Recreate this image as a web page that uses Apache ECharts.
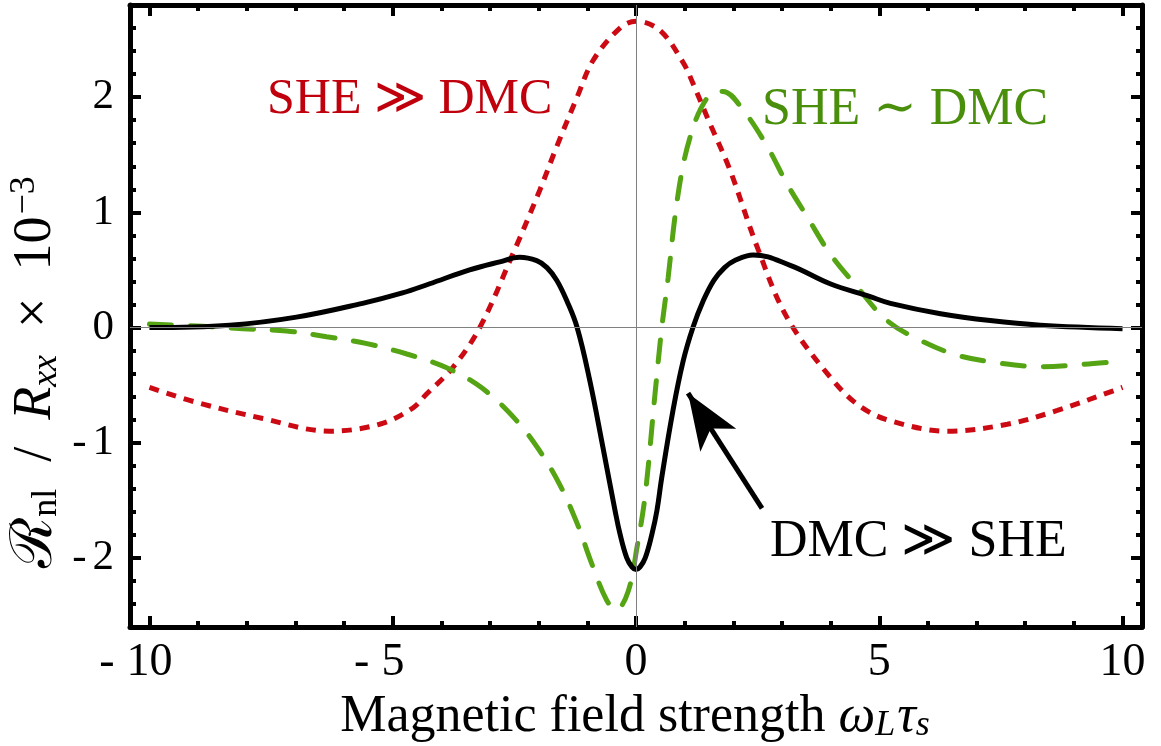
<!DOCTYPE html>
<html>
<head>
<meta charset="utf-8">
<script src="https://cdn.jsdelivr.net/npm/echarts@6/dist/echarts.min.js"></script>
<style>
  html, body { margin: 0; padding: 0; background: #fff; }
  #chart { width: 1161px; height: 746px; }
</style>
</head>
<body>
<div id="chart"></div>
<script>
// tick positions
var xMajor = [-10, -5, 0, 5, 10];
var xMinor = [-10, -9, -8, -7, -6, -5, -4, -3, -2, -1, 0, 1, 2, 3, 4, 5, 6, 7, 8, 9, 10];
var yMajor = [-2, -1, 0, 1, 2];
var yMinor = [-2.6, -2.4, -2.2, -2, -1.8, -1.6, -1.4, -1.2, -1, -0.8, -0.6, -0.4, -0.2, 0,
  0.2, 0.4, 0.6, 0.8, 1, 1.2, 1.4, 1.6, 1.8, 2, 2.2, 2.4, 2.6, 2.8];

// DMC >> SHE (black, solid)
var blackX = [-10, -8.35, -6.98, -5.62, -4.8, -4.24, -3.42, -2.8, -2.39, -2.04, -1.83, -1.63, -1.42, -1.21, -0.95, -0.68, -0.43, -0.33, -0.19, -0.08, 0,
  0.08, 0.19, 0.33, 0.43, 0.53, 0.76, 0.97, 1.17, 1.38, 1.6, 1.82, 2.02, 2.41, 3.17, 3.99, 4.8, 5.23, 6.26, 7.28, 8.31, 10];
var blackY = [0, 0.02, 0.09, 0.21, 0.3, 0.38, 0.5, 0.57, 0.61, 0.58, 0.52, 0.41, 0.23, 0, -0.46, -1.04, -1.59, -1.79, -2.0, -2.08, -2.1,
  -2.08, -2.0, -1.79, -1.59, -1.3, -0.72, -0.29, 0, 0.23, 0.41, 0.52, 0.58, 0.63, 0.54, 0.38, 0.27, 0.21, 0.12, 0.06, 0.02, -0.01];

// SHE >> DMC (red, dotted)
var redX = [-10, -9.03, -7.67, -6.3, -5.27, -4.59, -4.31, -3.77, -3.21, -2.53, -1.98, -1.63, -1.21, -0.88, -0.33, 0,
  0.49, 0.97, 1.17, 1.52, 1.93, 2.49, 3.1, 3.99, 4.59, 5.23, 6.4, 7.63, 8.66, 9.81, 10];
var redY = [-0.52, -0.65, -0.79, -0.9, -0.84, -0.7, -0.58, -0.35, 0, 0.64, 1.19, 1.57, 2.0, 2.32, 2.6, 2.66,
  2.58, 2.3, 2.12, 1.77, 1.37, 0.7, 0.09, -0.43, -0.68, -0.81, -0.9, -0.84, -0.72, -0.55, -0.52];

// SHE ~ DMC (green, dashed)
var greenX = [-10, -8.9, -8.08, -7.18, -6.36, -5.53, -4.71, -3.89, -3.15, -2.45, -1.98, -1.56, -1.21, -0.91, -0.6, -0.4, -0.16, 0.02,
  0.19, 0.39, 0.53, 0.66, 0.8, 0.95, 1.11, 1.32, 1.59, 1.79, 2.2, 2.7, 3.1, 3.52, 3.99, 4.55, 5.16, 5.84, 6.6, 7.49, 8.31, 9.2, 10];
var greenY = [0.03, 0.01, -0.01, -0.03, -0.08, -0.14, -0.23, -0.35, -0.53, -0.81, -1.07, -1.37, -1.7, -2.05, -2.37, -2.45, -2.29, -1.91,
  -1.45, -0.58, 0, 0.43, 0.96, 1.37, 1.65, 1.89, 2.04, 2.05, 1.89, 1.57, 1.25, 0.96, 0.64, 0.35, 0.06, -0.11, -0.24, -0.31, -0.34, -0.32, -0.29];

function pairs(xs, ys) {
  var res = [];
  for (var i = 0; i < xs.length; i++) res.push([xs[i], ys[i]]);
  return res;
}

var serif = "'Liberation Serif', 'DejaVu Serif', serif";

function xAxisOf(position, ticks, len, labels, line) {
  return {
    type: 'value', position: position, min: -10.4, max: 10.4,
    axisLine: { show: line, onZero: false, lineStyle: { color: '#000', width: 5 } },
    axisTick: { show: true, inside: true, length: len, customValues: ticks, lineStyle: { color: '#000', width: 4 } },
    axisLabel: {
      show: labels, customValues: xMajor, margin: 13, color: '#000', fontFamily: serif, fontSize: 46,
      // minus sign hangs to the left, digits stay centred on the tick
      formatter: function (v) { return v < 0 ? '{m|-}' + Math.abs(v) + '{p|}' : '' + v; },
      rich: {
        m: { fontFamily: serif, fontSize: 46, color: '#000', padding: [0, 12, 0, 0] },
        p: { width: 27 }
      }
    },
    splitLine: { show: false }
  };
}

function yAxisOf(position, ticks, len, labels, line) {
  return {
    type: 'value', position: position, min: -2.6, max: 2.8,
    axisLine: { show: line, onZero: false, lineStyle: { color: '#000', width: 5 } },
    axisTick: { show: true, inside: true, length: len, customValues: ticks, lineStyle: { color: '#000', width: 4 } },
    axisLabel: {
      show: labels, customValues: yMajor, margin: 16, color: '#000', fontFamily: serif, fontSize: 43,
      formatter: function (v) { return v < 0 ? '{m|-}' + Math.abs(v) : '' + v; },
      rich: {
        m: { fontFamily: serif, fontSize: 43, color: '#000', padding: [0, 6, 0, 0] }
      }
    },
    splitLine: { show: false }
  };
}

var xAxes = [
  xAxisOf('bottom', xMajor, 11, true, true),
  xAxisOf('bottom', xMinor, 6, false, false),
  xAxisOf('top', xMajor, 11, false, true),
  xAxisOf('top', xMinor, 6, false, false)
];
xAxes[0].name = 'Magnetic field strength {it|ω}{sub|L}{it|τ}{sub|s}';
xAxes[0].nameLocation = 'middle';
xAxes[0].nameGap = 56;
xAxes[0].nameTextStyle = {
  color: '#000', fontFamily: serif, fontSize: 52,
  rich: {
    it: { fontFamily: serif, fontStyle: 'italic', fontSize: 52, color: '#000' },
    sub: { fontFamily: serif, fontStyle: 'italic', fontSize: 36, color: '#000', verticalAlign: 'bottom', padding: [18, 2, 0, 0] }
  }
};

var option = {
  animation: false,
  backgroundColor: '#fff',
  grid: { left: 130, right: 19, top: 5, bottom: 119, containLabel: false, outerBoundsMode: 'none' },
  xAxis: xAxes,
  yAxis: [
    yAxisOf('left', yMajor, 11, true, true),
    yAxisOf('left', yMinor, 6, false, false),
    yAxisOf('right', yMajor, 11, false, true),
    yAxisOf('right', yMinor, 6, false, false)
  ],
  series: [
    {
      name: 'SHE >> DMC', type: 'line', data: pairs(redX, redY), showSymbol: false, smooth: 0.35,
      lineStyle: { color: '#cc0a14', width: 5, type: [10, 8], cap: 'butt' },
      markLine: {
        silent: true, symbol: 'none', label: { show: false },
        lineStyle: { color: '#808080', width: 1, type: 'solid' },
        data: [{ xAxis: 0 }, { yAxis: 0 }]
      },
      z: 2
    },
    {
      name: 'SHE ~ DMC', type: 'line', data: pairs(greenX, greenY), showSymbol: false, smooth: 0.35,
      lineStyle: { color: '#55a414', width: 5, type: [22, 19], cap: 'round' },
      z: 3
    },
    {
      name: 'DMC >> SHE', type: 'line', data: pairs(blackX, blackY), showSymbol: false, smooth: 0.4,
      lineStyle: { color: '#000', width: 5 },
      markLine: {
        silent: true, symbol: ['none', 'arrow'], symbolSize: [32, 56], label: { show: false },
        lineStyle: { color: '#000', width: 5, type: 'solid' },
        data: [[{ coord: [2.59, -1.57] }, { coord: [1.07, -0.57] }]]
      },
      z: 4
    }
  ],
  graphic: [
    {
      type: 'text', left: 267, top: 75,
      style: { text: 'SHE ≫ DMC', fill: '#c0000c', font: '50px ' + serif }
    },
    {
      type: 'text', left: 762, top: 84,
      style: { text: 'SHE ∼ DMC', fill: '#4a8f0c', font: '52px ' + serif }
    },
    {
      type: 'text', left: 770, top: 516,
      style: { text: 'DMC ≫ SHE', fill: '#000', font: '52px ' + serif }
    },
    {
      type: 'text', x: 36, y: 372, rotation: Math.PI / 2,
      style: {
        text: '{cal|ℛ}{sub|nl}{n|  /  }{it|R}{isub|xx}{n|  ×  10}{sup|−3}',
        align: 'center', verticalAlign: 'middle', fill: '#000',
        rich: {
          cal: { fontFamily: serif, fontSize: 58, fill: '#000' },
          n: { fontFamily: serif, fontSize: 54, fill: '#000' },
          it: { fontFamily: serif, fontStyle: 'italic', fontSize: 54, fill: '#000' },
          sub: { fontFamily: serif, fontSize: 36, fill: '#000', verticalAlign: 'bottom', padding: [20, 0, 0, 0] },
          isub: { fontFamily: serif, fontStyle: 'italic', fontSize: 36, fill: '#000', verticalAlign: 'bottom', padding: [20, 0, 0, 0] },
          sup: { fontFamily: serif, fontSize: 36, fill: '#000', verticalAlign: 'top', padding: [0, 0, 22, 2] }
        }
      }
    }
  ]
};

var myChart = echarts.init(document.getElementById('chart'));
myChart.setOption(option);
</script>
</body>
</html>
